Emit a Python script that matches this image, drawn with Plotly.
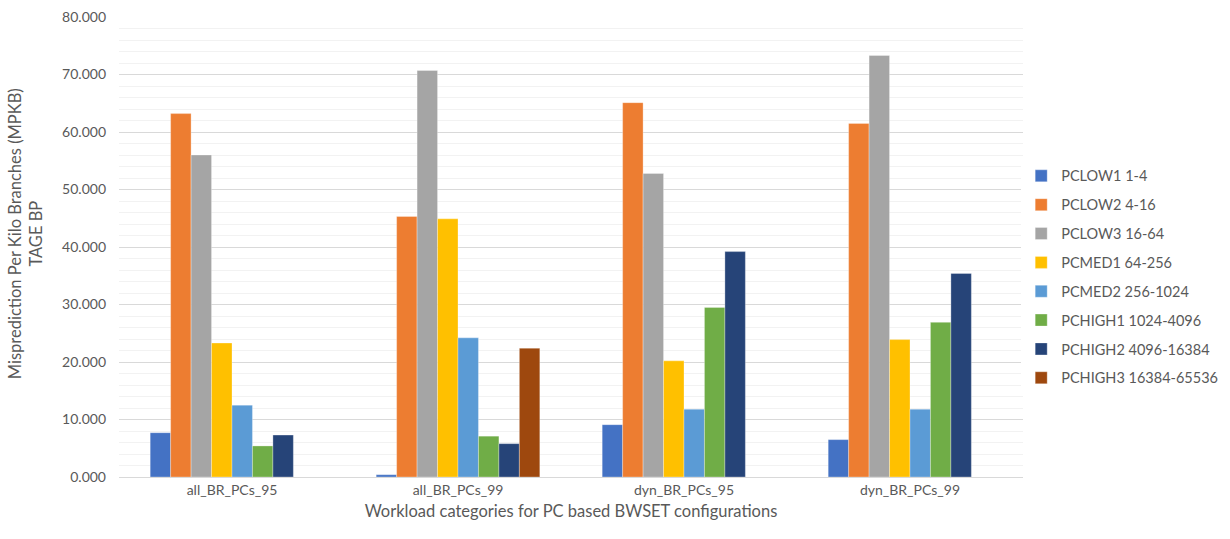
import plotly.graph_objects as go

categories = ["all_BR_PCs_95", "all_BR_PCs_99", "dyn_BR_PCs_95", "dyn_BR_PCs_99"]

series_names = [
    "PCLOW1 1-4",
    "PCLOW2 4-16",
    "PCLOW3 16-64",
    "PCMED1 64-256",
    "PCMED2 256-1024",
    "PCHIGH1 1024-4096",
    "PCHIGH2 4096-16384",
    "PCHIGH3 16384-65536",
]

pclow1 = [7.7, 0.4, 9.1, 6.5]
pclow2 = [63.2, 45.3, 65.1, 61.5]
pclow3 = [56.0, 70.7, 52.8, 73.3]
pcmed1 = [23.3, 44.9, 20.2, 23.9]
pcmed2 = [12.5, 24.2, 11.8, 11.8]
pchigh1 = [5.4, 7.1, 29.5, 26.9]
pchigh2 = [7.3, 5.8, 39.2, 35.4]
pchigh3 = [None, 22.4, None, None]

series_values = [pclow1, pclow2, pclow3, pcmed1, pcmed2, pchigh1, pchigh2, pchigh3]

colors = ["#4472C4", "#ED7D31", "#A5A5A5", "#FFC000",
          "#5B9BD5", "#70AD47", "#264478", "#9E480E"]

FONT = "Lato"
GREY = "#595959"

fig = go.Figure()
for i, (name, vals, col) in enumerate(zip(series_names, series_values, colors)):
    fig.add_trace(go.Bar(
        x=categories, y=vals, name=name,
        marker=dict(color=col, line=dict(color="rgba(255,255,255,0.5)", width=0.6)),
        legendgroup=f"g{i}",
    ))

fig.update_layout(
    width=1230, height=539,
    margin=dict(l=119, r=207, t=17, b=62, autoexpand=False),
    paper_bgcolor="white", plot_bgcolor="white",
    barmode="group", bargap=0.276, bargroupgap=0,
    font=dict(family=FONT, color=GREY, size=14),
    legend=dict(
        x=0.998, xanchor="left", y=0.435, yanchor="middle",
        font=dict(family=FONT, size=14.5, color=GREY),
        tracegroupgap=7, traceorder="grouped",
        itemwidth=30,
    ),
    showlegend=True,
)

fig.update_yaxes(
    range=[0, 80], dtick=10, tickformat=".3f",
    showgrid=True, gridcolor="#D9D9D9", gridwidth=1,
    minor=dict(dtick=2, showgrid=True, gridcolor="#F2F2F2", gridwidth=1),
    zeroline=False, showline=False, ticks="",
    tickfont=dict(family=FONT, size=14, color=GREY),
    ticklabelstandoff=12,
)

fig.update_xaxes(
    showline=True, linecolor="#D9D9D9", linewidth=1, ticks="",
    tickfont=dict(family=FONT, size=14, color=GREY),
    title=dict(text="Workload categories for PC based BWSET configurations",
               font=dict(family=FONT, size=16.5, color=GREY), standoff=8),
)

fig.add_annotation(
    xref="paper", yref="paper", x=-0.104, y=0.53,
    xanchor="center", yanchor="middle", textangle=-90, showarrow=False,
    text="Misprediction Per Kilo Branches (MPKB)<br>TAGE BP",
    font=dict(family=FONT, size=16.5, color=GREY),
)

fig.write_html("out.html")
